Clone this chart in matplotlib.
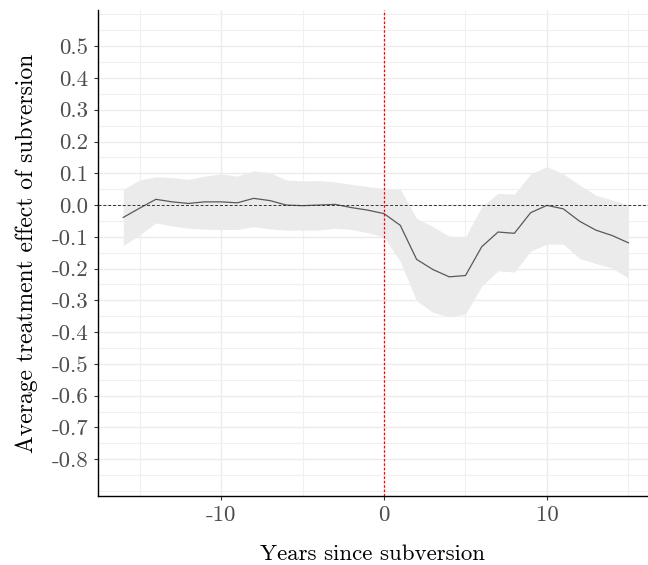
import matplotlib
matplotlib.use("Agg")
import matplotlib.pyplot as plt
from matplotlib.ticker import MultipleLocator

plt.rcParams['font.family'] = ['cmr10', 'DejaVu Serif']
plt.rcParams['axes.unicode_minus'] = False
plt.rcParams['mathtext.fontset'] = 'cm'

years = list(range(-16, 16))
att = [-0.039, -0.010, 0.018, 0.010, 0.005, 0.010, 0.010, 0.007, 0.021, 0.014,
       0.000, -0.002, 0.000, 0.002, -0.008, -0.016, -0.027,
       -0.064, -0.171, -0.203, -0.226, -0.222, -0.131, -0.085, -0.089, -0.024,
       -0.001, -0.012, -0.051, -0.079, -0.096, -0.119]
upper = [0.049, 0.079, 0.089, 0.086, 0.081, 0.091, 0.098, 0.091, 0.108, 0.102,
         0.079, 0.076, 0.077, 0.073, 0.065, 0.058, 0.052,
         0.050, -0.042, -0.068, -0.098, -0.100, -0.005, 0.037, 0.034, 0.098,
         0.121, 0.098, 0.063, 0.031, 0.016, 0.000]
lower = [-0.128, -0.094, -0.056, -0.066, -0.073, -0.076, -0.077, -0.077, -0.068, -0.075,
         -0.079, -0.079, -0.079, -0.073, -0.077, -0.087, -0.101,
         -0.178, -0.301, -0.338, -0.352, -0.343, -0.255, -0.207, -0.211, -0.145,
         -0.123, -0.123, -0.168, -0.184, -0.199, -0.230]
ytick_vals = [-0.8, -0.7, -0.6, -0.5, -0.4, -0.3, -0.2, -0.1, 0.0, 0.1, 0.2, 0.3, 0.4, 0.5]
xtick_vals = [-10, 0, 10]

fig = plt.figure(figsize=(6.48, 5.65), dpi=100)
ax = fig.add_axes([98 / 648, 69 / 565, 550 / 648, 486 / 565])

ax.fill_between(years, lower, upper, color='#ebebeb', linewidth=0, zorder=2)
ax.plot(years, att, color='#595959', linewidth=0.9, zorder=3)
ax.axhline(0, color='#333333', linestyle=(0, (3, 2)), linewidth=0.7, zorder=4)
ax.axvline(0, color='#ff0000', linestyle=(0, (2, 1.5)), linewidth=0.9, zorder=4)

ax.set_xlim(-17.55, 16.2)
ax.set_ylim(-0.916, 0.614)
ax.set_xticks(xtick_vals)
ax.set_yticks(ytick_vals)
ax.set_yticklabels([f"{v:.1f}" for v in ytick_vals])
ax.xaxis.set_minor_locator(MultipleLocator(5))
ax.yaxis.set_minor_locator(MultipleLocator(0.05))

ax.grid(which='major', color='#ebebeb', linewidth=1.0, zorder=0)
ax.grid(which='minor', color='#f0f0f0', linewidth=0.8, zorder=0)
ax.set_axisbelow(True)

for s in ['top', 'right']:
    ax.spines[s].set_visible(False)
for s in ['left', 'bottom']:
    ax.spines[s].set_color('black')
    ax.spines[s].set_linewidth(1.0)

ax.tick_params(which='major', length=3, color='#333333', labelsize=16.5, labelcolor='#4d4d4d', pad=4)
ax.tick_params(which='minor', length=0)

ax.set_xlabel("Years since subversion", fontsize=16.5, labelpad=14)
ax.set_ylabel("Average treatment effect of subversion", fontsize=17, labelpad=10)

fig.savefig("out.png", dpi=100)
